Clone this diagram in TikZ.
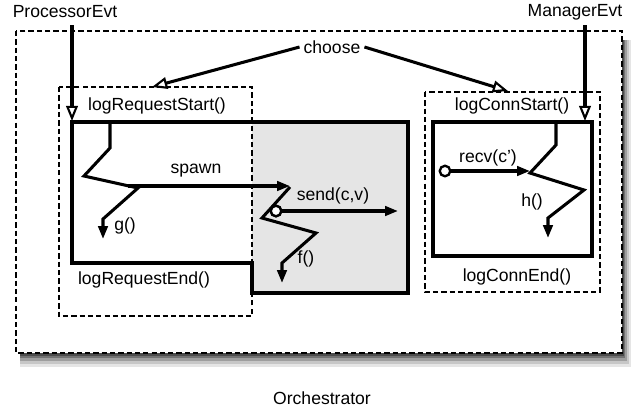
\documentclass[tikz,border=0pt]{standalone}
\usepackage{fontspec}
\setmainfont{Liberation Sans}
\usetikzlibrary{positioning, arrows.meta}

\tikzset{
    dashbox/.style={draw, line width=1pt, dash pattern=on 4.5pt off 2.6pt},
    region/.style={draw, line width=2.6pt, line join=miter},
    thread/.style={line width=2.6pt, line join=miter, -{Triangle[length=11pt,width=8pt]}},
    evt/.style={line width=2.6pt, -{Triangle[open,length=13pt,width=10pt,line width=1.8pt]}},
    port/.style={circle, draw, line width=2pt, fill=white, minimum size=9pt, inner sep=0pt}
}

\begin{document}
\begin{tikzpicture}[x=0.03cm, y=-0.03cm, font=\fontsize{15}{18}\selectfont]
        \useasboundingbox (0,0) rectangle (643,412);

        % orchestrator frame with soft shadow
        \fill[black!10] (20,40) rectangle (631,367);
        \fill[black!22] (20,40) rectangle (629,364);
        \fill[black!38] (20,40) rectangle (627,361);
        \fill[black!55] (20,40) rectangle (625,358);
        \fill[black!70] (20,40) rectangle (624,356);
        \draw[dashbox, fill=white] (16,31) rectangle (622,353);

        % request handler regions
        \fill[black!10] (252,122) rectangle (408,293);
        \draw[region] (72,122) -- (408,122) -- (408,293) -- (252,293) -- (252,263) -- (72,263) -- cycle;
        \draw[dashbox] (59,87) rectangle (252,316);

        % connection handler region
        \draw[region] (433,122) rectangle (592,256);
        \draw[dashbox] (425,92) rectangle (600,292);

        \node (pevt) at (65,12) {ProcessorEvt};
        \node (mevt) at (575,12) {ManagerEvt};
        \node (choose) at (332,47) {choose};
        \node (lrs) at (157,106) {logRequestStart()};
        \node (lre) at (144,280) {logRequestEnd()};
        \node (lcs) at (512,106) {logConnStart()};
        \node (lce) at (517,277) {logConnEnd()};
        \node (spawn) at (196,171) {spawn};
        \node (send) at (333,196) {send(c,v)};
        \node (recv) at (488,158) {recv(c')};
        \node (g) at (125,226) {g()};
        \node (f) at (306,259) {f()};
        \node (h) at (532,202) {h()};
        \node (orch) at (322,398) {Orchestrator};

        \coordinate (pin) at (72,121);
        \coordinate (min) at (585,121);
        \coordinate (lreq) at (152,87);
        \coordinate (lconn) at (508,91);
        \coordinate (spawnend) at (290,186);
        \coordinate (sendend) at (398,211);
        \coordinate (recvend) at (530,171);

        \node[port] (sport) at (276,211) {};
        \node[port] (rport) at (445,171) {};

        \draw[evt] (72,25) -- (pin);
        \draw[evt] (585,25) -- (min);
        \draw[evt] (choose.west) -- (lreq);
        \draw[evt] (choose.east) -- (lconn);

        % threads
        \draw[thread] (110,122) -- (110,148) -- (84,176) -- (138,188) -- (103,219) -- (103,239);
        \draw[thread] (290,187) -- (262,218) -- (316,233) -- (282,263) -- (282,283);
        \draw[thread] (556,122) -- (556,145) -- (530,173) -- (584,190) -- (548,218) -- (548,238);

        \draw[thread] (128,186) -- (spawnend);
        \draw[thread] (sport) -- (sendend);
        \draw[thread] (rport) -- (recvend);
        \node[port] at (sport) {};
\end{tikzpicture}
\end{document}
